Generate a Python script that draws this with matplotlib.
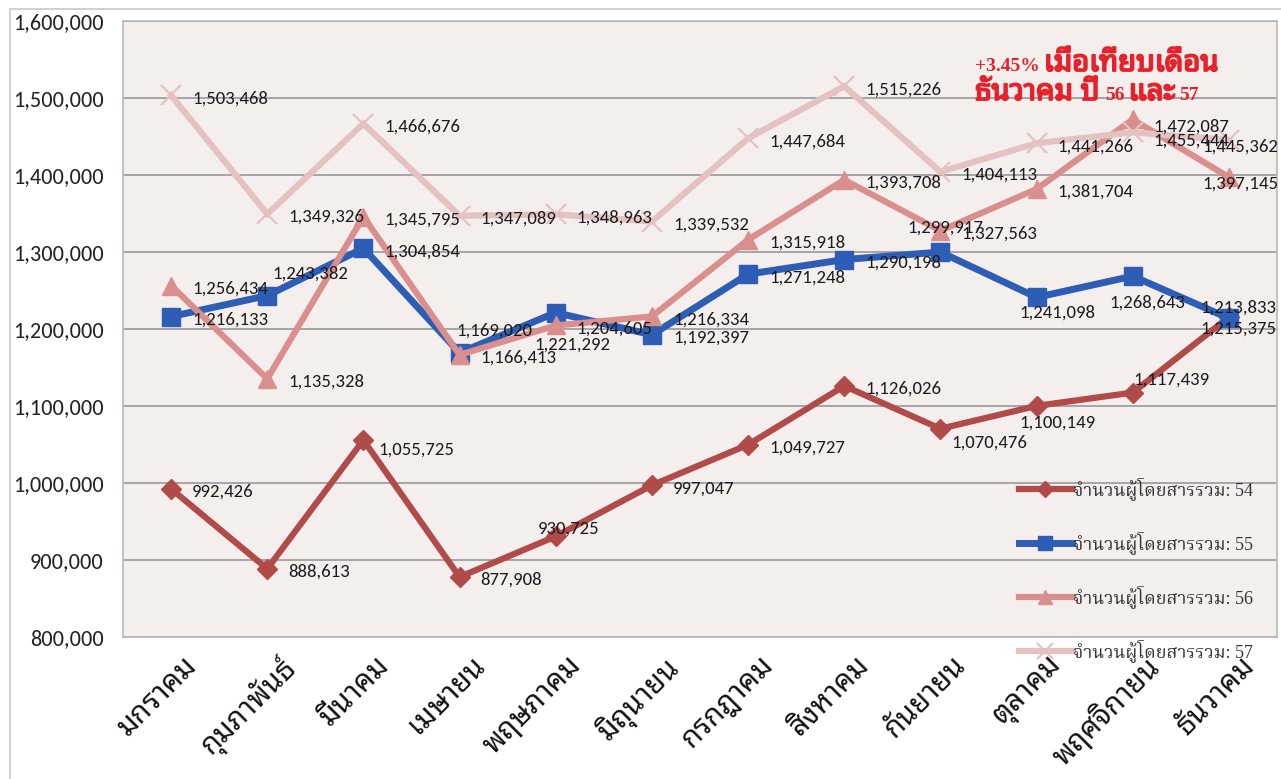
import matplotlib
matplotlib.use("Agg")
import matplotlib.pyplot as plt
import matplotlib.transforms as mtransforms
import matplotlib.patheffects as pe
from matplotlib.patches import Rectangle
from matplotlib.ticker import FuncFormatter, MultipleLocator
import numpy as np
import warnings
warnings.filterwarnings("ignore")

# ---------------- data ----------------
months = ["มกราคม", "กุมภาพันธ์", "มีนาคม", "เมษายน", "พฤษภาคม", "มิถุนายน",
          "กรกฎาคม", "สิงหาคม", "กันยายน", "ตุลาคม", "พฤศจิกายน", "ธันวาคม"]
s54 = [992426, 888613, 1055725, 877908, 930725, 997047,
       1049727, 1126026, 1070476, 1100149, 1117439, 1215375]
s55 = [1216133, 1243382, 1304854, 1169020, 1221292, 1192397,
       1271248, 1290198, 1299917, 1241098, 1268643, 1213833]
s56 = [1256434, 1135328, 1345795, 1166413, 1204605, 1216334,
       1315918, 1393708, 1327563, 1381704, 1472087, 1397145]
s57 = [1503468, 1349326, 1466676, 1347089, 1348963, 1339532,
       1447684, 1515226, 1404113, 1441266, 1455444, 1445362]
series_names = ["จำนวนผู้โดยสารรวม: 54", "จำนวนผู้โดยสารรวม: 55",
                "จำนวนผู้โดยสารรวม: 56", "จำนวนผู้โดยสารรวม: 57"]
y_min, y_max, y_step = 800000, 1600000, 100000

# ---------------- style ----------------
W, H = 1281, 779
NUM_FONT = ["Carlito", "Lato", "DejaVu Sans"]
THAI_FONT = ["Noto Sans Thai Looped", "Loma"]
LEG_FONT = ["Liberation Serif", "Noto Serif Thai"]

styles = [
    dict(color="#b14b49", marker="D", ms=10, lw=4.5, mew=1),
    dict(color="#2e5db6", marker="s", ms=13, lw=5, mew=1),
    dict(color="#d98f8d", marker="^", ms=13, lw=4.5, mew=1),
    dict(color="#e4c2c1", marker="x", ms=15, lw=4.5, mew=1.6),
]

fig = plt.figure(figsize=(W / 100, H / 100), dpi=100)
fig.patch.set_facecolor("white")
# chart-area border
fig.add_artist(Rectangle((10 / W, -0.01), 1.02, (H - 9) / H + 0.01, transform=fig.transFigure,
                         fill=False, edgecolor="#c8c8c8", lw=1.2))

ax = fig.add_axes([123 / W, (H - 637) / H, (1277 - 123) / W, (637 - 21) / H])
ax.set_facecolor("#f4efed")
for sp in ax.spines.values():
    sp.set_color("#b9b9b9")
    sp.set_linewidth(1.2)

x = np.arange(len(months))
all_series = [s54, s55, s56, s57]
for vals, st, name in zip(all_series, styles, series_names):
    ax.plot(x, vals, color=st["color"], lw=st["lw"], marker=st["marker"], ms=st["ms"],
            mew=st["mew"], mec=st["color"], mfc=st["color"], label=name,
            solid_joinstyle="miter", zorder=3)

ax.set_xlim(-0.5, len(months) - 0.5)
ax.set_ylim(y_min, y_max)
ax.yaxis.set_major_locator(MultipleLocator(y_step))
ax.yaxis.set_major_formatter(FuncFormatter(lambda v, p: f"{int(v):,}"))
ax.grid(axis="y", color="#a6a6a6", lw=1.4, zorder=1)
ax.set_axisbelow(True)
ax.tick_params(axis="y", length=0, pad=14, labelsize=16, labelcolor="#222222")
for t in ax.get_yticklabels():
    t.set_family(NUM_FONT)

ax.set_xticks(x)
ax.set_xticklabels(months, rotation=45, ha="right", va="top", rotation_mode="anchor",
                   family=THAI_FONT, fontsize=21, color="#111111")
ax.tick_params(axis="x", length=0, pad=10)
offset = mtransforms.ScaledTranslation(11 / 100, 0, fig.dpi_scale_trans)
for t in ax.get_xticklabels():
    t.set_transform(t.get_transform() + offset)

# ---------------- data labels ----------------
PX = 0.72  # px -> pt
default_off = ("left", 21, 3)
overrides = {
    (1, 1): ("left", 5, -22),
    (1, 3): ("left", -3, -22),
    (1, 4): ("center", 17, 32),
    (0, 4): ("center", 13, -8),
    (0, 2): ("left", 15, 10),
    (1, 8): ("center", 5, -24),
    (0, 8): ("left", 11, 14),
    (1, 9): ("center", 21, 15),
    (0, 9): ("center", 21, 17),
    (2, 10): ("left", 21, 7),
    (3, 10): ("left", 21, 8),
    (1, 10): ("center", 15, 26),
    (0, 10): ("left", 1, -13),
    (3, 11): ("center", 11, 7),
    (2, 11): ("center", 11, 6),
    (1, 11): ("center", 9, -11),
    (0, 11): ("center", 9, 11),
}
for si, vals in enumerate(all_series):
    for i, v in enumerate(vals):
        ha, dx, dy = overrides.get((si, i), default_off)
        ax.annotate(f"{v:,}", xy=(i, v), xytext=(dx * PX, -dy * PX), textcoords="offset points",
                    ha=ha, va="center", fontsize=13.5, family=NUM_FONT, color="#1a1a1a",
                    zorder=5, annotation_clip=False)

# ---------------- legend ----------------
leg = ax.legend(loc="upper left", bbox_to_anchor=((1012 - 123) / (1277 - 123), (637 - 470) / (637 - 21)),
                frameon=False, prop=dict(family=LEG_FONT, size=13), labelspacing=1.72,
                handlelength=2.9, handletextpad=0.1, borderaxespad=0, markerscale=0.8)
for txt in leg.get_texts():
    txt.set_color("#333333")
leg.set_zorder(6)

# ---------------- headline ----------------
RED = "#e8202a"
TFONT = ["Noto Sans Thai Looped"]
heavy = [pe.withStroke(linewidth=1.3, foreground=RED)]
l1y, l2y = H - 71, H - 100
t1 = fig.text(975 / W, l1y / H, "+3.45%", color=RED, family=LEG_FONT, fontsize=14,
              fontweight="bold", va="baseline")
t2 = ax.annotate("เมื่อเทียบเดือน", xy=(1, l1y), xycoords=(t1, "figure pixels"), xytext=(3, 0),
                 textcoords="offset points", color=RED, family=TFONT, fontsize=21,
                 fontweight="bold", va="baseline", annotation_clip=False, path_effects=heavy)
t3 = fig.text(975 / W, l2y / H, "ธันวาคม ปี", color=RED, family=TFONT,
              fontsize=21, fontweight="bold", va="baseline", path_effects=heavy)
t4 = ax.annotate("56", xy=(1, l2y), xycoords=(t3, "figure pixels"), xytext=(4, 0),
                 textcoords="offset points", color=RED, family=LEG_FONT, fontsize=14,
                 fontweight="bold", va="baseline", annotation_clip=False)
t5 = ax.annotate("และ", xy=(1, l2y), xycoords=(t4, "figure pixels"), xytext=(3, 0),
                 textcoords="offset points", color=RED, family=TFONT,
                 fontsize=21, fontweight="bold", va="baseline", annotation_clip=False,
                 path_effects=heavy)
t6 = ax.annotate("57", xy=(1, l2y), xycoords=(t5, "figure pixels"), xytext=(3, 0),
                 textcoords="offset points", color=RED, family=LEG_FONT, fontsize=14,
                 fontweight="bold", va="baseline", annotation_clip=False)

fig.savefig("out.png", dpi=100)
